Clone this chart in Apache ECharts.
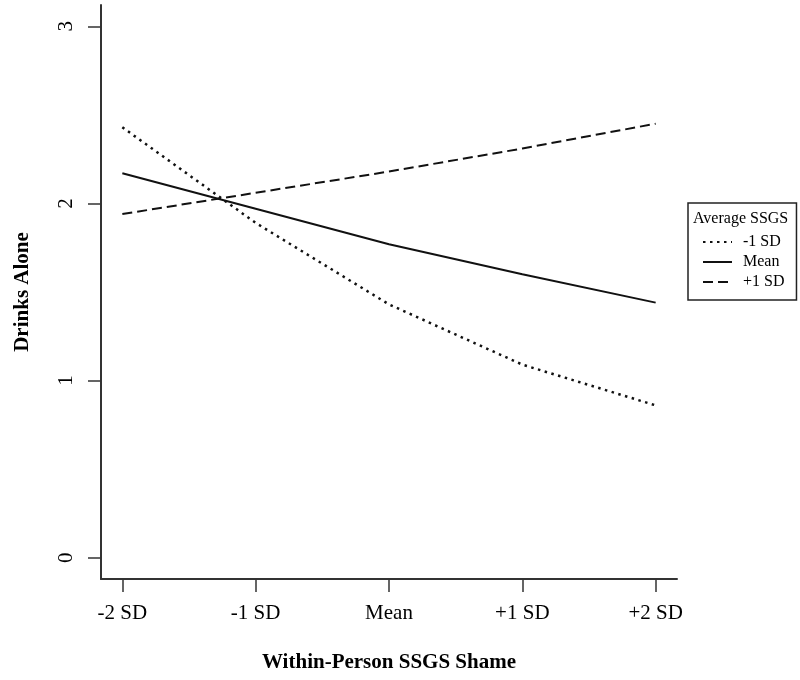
<!DOCTYPE html>
<html>
<head>
<meta charset="utf-8">
<script src="https://cdn.jsdelivr.net/npm/echarts@6/dist/echarts.min.js"></script>
<style>
html,body{margin:0;padding:0;background:#fff;}
#chart{width:800px;height:680px;}
</style>
</head>
<body>
<div id="chart"></div>
<script>
// Data
var categories = ['-2 SD', '-1 SD', 'Mean', '+1 SD', '+2 SD'];
var xPositions = [1, 2, 3, 4, 5];
var lowSSGS = [2.43, 1.89, 1.43, 1.09, 0.86];   // -1 SD
var meanSSGS = [2.17, 1.97, 1.77, 1.60, 1.44];  // Mean
var highSSGS = [1.94, 2.06, 2.18, 2.31, 2.45];  // +1 SD
var yTicks = [0, 1, 2, 3];
var seriesNames = ['-1 SD', 'Mean', '+1 SD'];
var legendTitle = 'Average SSGS';
var xTitle = 'Within-Person SSGS Shame';
var yTitle = 'Drinks Alone';

function pairs(vals) {
  return xPositions.map(function (x, i) { return [x, vals[i]]; });
}

var FONT = '"Liberation Serif", "Times New Roman", serif';
var chart = echarts.init(document.getElementById('chart'), null, {renderer: 'canvas'});

var axisColor = '#333';

chart.setOption({
  backgroundColor: '#fff',
  animation: false,
  textStyle: {fontFamily: FONT, color: '#000'},
  grid: {left: 101, right: 123, top: 5, bottom: 101, containLabel: false},
  title: {
    text: legendTitle,
    left: 693, top: 211,
    padding: 0,
    textStyle: {fontFamily: FONT, fontSize: 16, fontWeight: 'normal', color: '#000'}
  },
  legend: {
    data: seriesNames,
    orient: 'vertical',
    left: 688, top: 203,
    padding: [31, 12, 10, 14],
    itemWidth: 29,
    itemHeight: 14,
    itemGap: 4,
    borderColor: '#222',
    borderWidth: 1.5,
    borderRadius: 0,
    itemStyle: {color: 'rgba(0,0,0,0)', borderColor: 'rgba(0,0,0,0)', borderWidth: 0},
    textStyle: {fontFamily: FONT, fontSize: 16, color: '#000', padding: [0, 0, 0, 6]}
  },
  xAxis: {
    type: 'value',
    min: 0.84, max: 5.16,
    name: xTitle,
    nameLocation: 'middle',
    nameGap: 73,
    nameTextStyle: {fontFamily: FONT, fontSize: 21, fontWeight: 'bold', color: '#000'},
    splitLine: {show: false},
    axisLine: {show: true, onZero: false, lineStyle: {color: axisColor, width: 2}},
    axisTick: {show: true, length: 13, customValues: xPositions, lineStyle: {color: axisColor, width: 1.5}},
    axisLabel: {
      customValues: xPositions,
      margin: 24,
      fontFamily: FONT, fontSize: 21, color: '#000',
      formatter: function (v) { return categories[Math.round(v) - 1] || ''; }
    }
  },
  yAxis: {
    type: 'value',
    min: -0.12, max: 3.12,
    name: yTitle,
    nameLocation: 'middle',
    nameGap: 68,
    nameRotate: 90,
    nameTextStyle: {fontFamily: FONT, fontSize: 21, fontWeight: 'bold', color: '#000'},
    splitLine: {show: false},
    axisLine: {show: true, onZero: false, lineStyle: {color: axisColor, width: 2}},
    axisTick: {show: true, length: 13, customValues: yTicks, lineStyle: {color: axisColor, width: 1.5}},
    axisLabel: {
      customValues: yTicks,
      rotate: 90,
      margin: 24,
      fontFamily: FONT, fontSize: 21, color: '#000',
      formatter: function (v) { return String(v); }
    }
  },
  series: [
    {
      name: seriesNames[0], type: 'line', data: pairs(lowSSGS),
      symbol: 'none', showSymbol: false,
      lineStyle: {color: '#111', width: 2.5, type: [2.5, 4.5]},
      itemStyle: {color: '#111'}
    },
    {
      name: seriesNames[1], type: 'line', data: pairs(meanSSGS),
      symbol: 'none', showSymbol: false,
      lineStyle: {color: '#111', width: 2, type: 'solid'},
      itemStyle: {color: '#111'}
    },
    {
      name: seriesNames[2], type: 'line', data: pairs(highSSGS),
      symbol: 'none', showSymbol: false,
      lineStyle: {color: '#111', width: 2, type: [10, 5]},
      itemStyle: {color: '#111'}
    }
  ]
});
</script>
</body>
</html>
